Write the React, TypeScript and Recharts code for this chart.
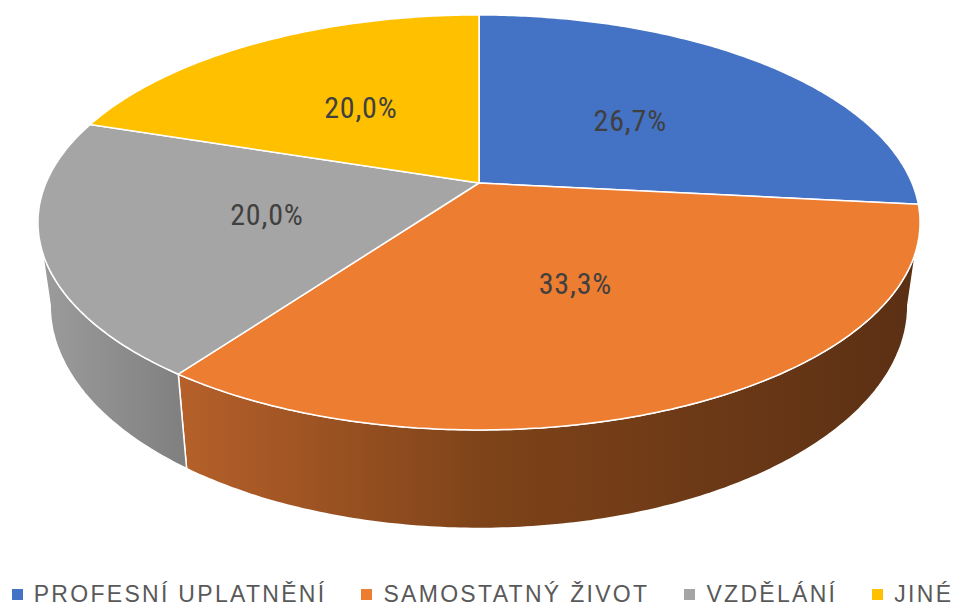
import React from "react";
import { PieChart, Pie, Cell, Legend } from "recharts";

const categories = ["PROFESNÍ UPLATNĚNÍ", "SAMOSTATNÝ ŽIVOT", "VZDĚLÁNÍ", "JINÉ"];
const counts = [4, 5, 3, 3];

const COLORS = ["#4472C4", "#ED7D31", "#A5A5A5", "#FFC000"];
const SIDE_FILLS = ["url(#sideBlue)", "url(#sideOrange)", "url(#sideGray)", "url(#sideYellow)"];

const data = categories.map((name, i) => ({ name, value: counts[i] }));

// fake 3d: perspective-projected disc
const RX = 433;
const RY = 200;
const PERSP = 0.19;
const RX_B = 421;
const RY_B = 215;
const DEPTH = 80;
const RAD = Math.PI / 180;

const project = (cx: number, cy: number, theta: number, f: number, bottom = false) => {
  const u = Math.sin(theta) * f;
  const v = -Math.cos(theta) * f;
  const w = 1 - PERSP * v;
  if (bottom) return [cx + (RX_B * u) / w, cy + DEPTH + (RY_B * v) / w];
  return [cx + (RX * u) / w, cy + (RY * v) / w];
};

const arcPoints = (cx: number, cy: number, a: number, b: number, bottom = false) => {
  const n = Math.max(2, Math.ceil(((b - a) / RAD) * 1.5));
  const pts: number[][] = [];
  for (let i = 0; i <= n; i++) pts.push(project(cx, cy, a + ((b - a) * i) / n, 1, bottom));
  return pts;
};

const Slice3D = (props: any) => {
  const { cx, cy, startAngle, endAngle, fill } = props;
  const name = props.payload?.name ?? props.name;
  const idx = categories.indexOf(name);
  const t0 = (90 - startAngle) * RAD;
  const t1 = (90 - endAngle) * RAD;

  // visible part of the rim (front half between silhouette points)
  const vis0 = Math.acos(-PERSP);
  const vis1 = 2 * Math.PI - vis0;
  const a = Math.max(t0, vis0);
  const b = Math.min(t1, vis1);

  let side = null;
  if (b > a) {
    const topPts = arcPoints(cx, cy, a, b);
    const botPts = arcPoints(cx, cy, a, b, true).reverse();
    const d =
      [...topPts, ...botPts].map((p, i) => `${i ? "L" : "M"}${p[0].toFixed(1)},${p[1].toFixed(1)}`).join(" ") + " Z";
    side = <path d={d} fill={SIDE_FILLS[idx] || fill} stroke="#fff" strokeWidth={1.5} strokeLinejoin="round" />;
  }

  const rim = arcPoints(cx, cy, t0, t1);
  const topD =
    `M${cx},${cy} ` + rim.map((p) => `L${p[0].toFixed(1)},${p[1].toFixed(1)}`).join(" ") + " Z";

  return (
    <g>
      {side}
      <path d={topD} fill={fill} stroke="#fff" strokeWidth={1.5} strokeLinejoin="round" />
    </g>
  );
};

const renderLabel = (props: any) => {
  const { cx, cy, midAngle, percent } = props;
  const [x, y] = project(cx, cy, (90 - midAngle) * RAD, 0.5);
  const txt = (percent * 100).toFixed(1).replace(".", ",") + "%";
  return (
    <text
      x={x}
      y={y}
      textAnchor="middle"
      dominantBaseline="central"
      fill="#404040"
      fontSize={30}
      letterSpacing={0.8}
      fontFamily="'Liberation Sans Narrow', 'Roboto Condensed', 'Liberation Sans', sans-serif"
    >
      {txt}
    </text>
  );
};

const renderLegend = (props: any) => {
  const payload = props.payload || [];
  const items = categories.map((c, i) => {
    const p = payload.find((it: any) => it.value === c);
    return { value: c, color: p ? p.color : COLORS[i] };
  });
  return (
    <div style={{ display: "flex", justifyContent: "center", alignItems: "center", height: 28 }}>
      {items.map((it: any, i: number) => (
        <div key={`leg-${i}`} style={{ display: "flex", alignItems: "center", marginRight: i < items.length - 1 ? 35 : 0 }}>
          <span style={{ width: 11, height: 11, background: it.color, display: "inline-block", marginRight: 11 }} />
          <span
            style={{
              color: "#595959",
              fontSize: 23,
              lineHeight: "28px",
              fontFamily: "'Liberation Sans', sans-serif",
              letterSpacing: 2.3,
            }}
          >
            {it.value}
          </span>
        </div>
      ))}
    </div>
  );
};

export default function App() {
  return (
    <div style={{ position: "absolute", left: 0, top: 0, width: 965, height: 608, background: "#fff" }}>
      <PieChart width={965} height={608} margin={{ top: 0, right: 0, bottom: 0, left: 0 }}>
        <defs>
          <linearGradient id="sideOrange" x1="40" x2="930" y1="0" y2="0" gradientUnits="userSpaceOnUse">
            <stop offset="0" stopColor="#c76c2e" />
            <stop offset="0.16" stopColor="#b5602a" />
            <stop offset="0.5" stopColor="#7e4319" />
            <stop offset="1" stopColor="#5a2f14" />
          </linearGradient>
          <linearGradient id="sideGray" x1="40" x2="930" y1="0" y2="0" gradientUnits="userSpaceOnUse">
            <stop offset="0" stopColor="#9c9c9c" />
            <stop offset="0.16" stopColor="#808080" />
            <stop offset="1" stopColor="#505050" />
          </linearGradient>
          <linearGradient id="sideBlue" x1="40" x2="930" y1="0" y2="0" gradientUnits="userSpaceOnUse">
            <stop offset="0" stopColor="#3a62a8" />
            <stop offset="1" stopColor="#203a66" />
          </linearGradient>
          <linearGradient id="sideYellow" x1="40" x2="930" y1="0" y2="0" gradientUnits="userSpaceOnUse">
            <stop offset="0" stopColor="#d9a400" />
            <stop offset="1" stopColor="#806000" />
          </linearGradient>
        </defs>
        <Pie
          data={data}
          dataKey="value"
          nameKey="name"
          cx={479}
          cy={183}
          outerRadius={200}
          startAngle={90}
          endAngle={-270}
          stroke="#fff"
          labelLine={false}
          label={renderLabel}
          shape={Slice3D}
          isAnimationActive={false}
        >
          {data.map((entry, index) => (
            <Cell key={`cell-${index}`} fill={COLORS[index % COLORS.length]} />
          ))}
        </Pie>
        <Legend
          verticalAlign="bottom"
          content={renderLegend}
          wrapperStyle={{ top: 580, left: 0, width: 965 }}
        />
      </PieChart>
    </div>
  );
}
